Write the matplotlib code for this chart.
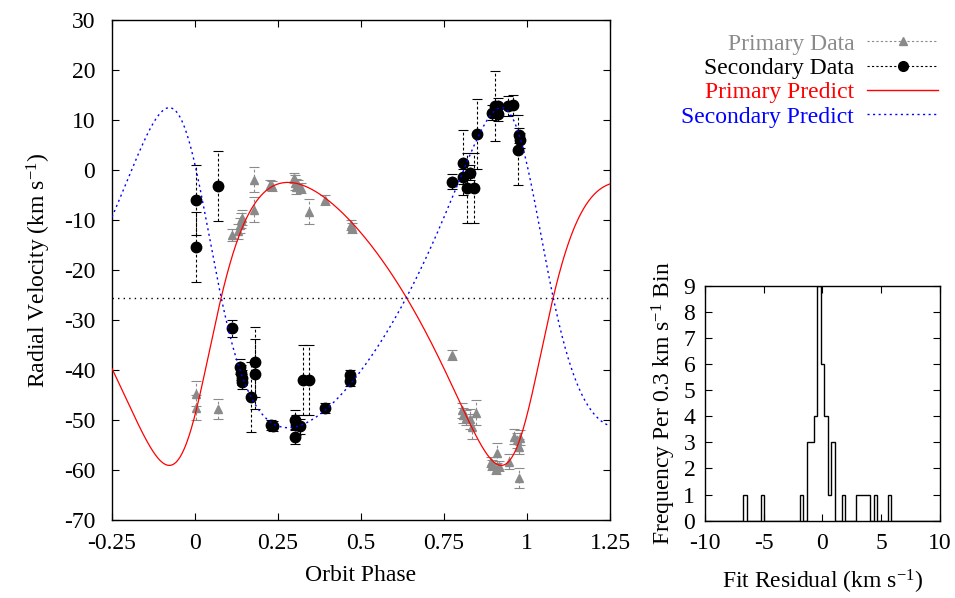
# Binary orbit radial velocity plot with residual histogram (gnuplot look)
import numpy as np
import matplotlib
matplotlib.use("Agg")
import matplotlib.pyplot as plt
from matplotlib.lines import Line2D

plt.rcParams.update({
    "font.family": ["Liberation Serif", "DejaVu Serif"],
    "font.size": 17,
    "mathtext.fontset": "custom",
    "mathtext.rm": "Liberation Serif",
    "mathtext.it": "Liberation Serif:italic",
    "axes.unicode_minus": False,
    "axes.linewidth": 1.0,
    "xtick.direction": "in",
    "ytick.direction": "in",
    "xtick.top": True,
    "ytick.right": True,
    "xtick.major.size": 5,
    "ytick.major.size": 5,
    "xtick.major.pad": 9,
    "ytick.major.pad": 12,
})

# --- primary star measurements (phase, km/s, error)
prim_phase = [0.002, 0.002, 0.068, 0.112, 0.128, 0.135, 0.138, 0.140, 0.178, 0.178,
              0.225, 0.232, 0.298, 0.300, 0.305, 0.310, 0.318, 0.344, 0.390, 0.470,
              0.472, 0.773, 0.803, 0.808, 0.815, 0.828, 0.835, 0.845, 0.890, 0.895,
              0.905, 0.910, 0.915, 0.945, 0.960, 0.970, 0.977, 0.978, 0.976]
prim_rv = [-44.7, -47.5, -47.7, -13.0, -12.2, -11.0, -10.0, -9.5, -1.9, -7.9,
           -3.0, -3.2, -1.5, -2.5, -3.3, -3.0, -3.5, -8.3, -6.0, -11.0,
           -11.6, -37.0, -48.0, -49.0, -49.5, -49.8, -51.3, -48.5, -58.3, -59.0,
           -59.7, -56.5, -59.2, -58.3, -53.3, -54.0, -55.3, -53.5, -61.5]
prim_err = [2.5, 2.5, 2.0, 1.2, 1.5, 1.5, 1.5, 1.5, 2.5, 2.5,
            1.0, 1.0, 1.0, 1.5, 1.5, 1.0, 1.0, 2.5, 1.0, 1.0,
            1.0, 1.0, 1.5, 1.5, 1.5, 2.0, 2.5, 2.5, 1.0, 1.0,
            1.0, 2.0, 1.0, 1.5, 1.5, 1.5, 1.5, 1.5, 2.0]

# --- secondary star measurements
sec_phase = [0.002, 0.002, 0.068, 0.112, 0.135, 0.137, 0.140, 0.142, 0.180, 0.181,
             0.168, 0.228, 0.234, 0.301, 0.303, 0.316, 0.302, 0.324, 0.344, 0.390,
             0.468, 0.466, 0.773, 0.806, 0.808, 0.818, 0.841, 0.828, 0.848, 0.894,
             0.902, 0.914, 0.914, 0.944, 0.959, 0.977, 0.979, 0.974]
sec_rv = [-6.0, -15.3, -3.2, -31.6, -39.3, -40.5, -42.3, -41.5, -38.4, -40.8,
          -45.3, -51.0, -51.2, -50.0, -51.0, -51.2, -53.3, -42.0, -42.0, -47.5,
          -41.0, -42.2, -2.3, -1.3, 1.5, -3.5, -3.5, -0.5, 7.3, 11.5,
          12.9, 12.9, 11.3, 12.9, 13.1, 7.0, 6.0, 4.1]
sec_err = [7.0, 7.0, 7.0, 1.7, 1.5, 1.5, 1.5, 1.5, 7.0, 7.0,
           7.0, 1.0, 1.0, 2.0, 2.0, 1.5, 1.5, 7.0, 7.0, 1.0,
           1.0, 1.0, 1.5, 1.5, 6.5, 7.0, 7.0, 1.5, 7.0, 1.5,
           7.0, 1.5, 1.5, 2.0, 2.0, 1.5, 1.5, 7.0]

# --- fitted orbit
GAMMA = -25.5      # systemic velocity
K1 = 28.3
K2 = 32.0
ECC = 0.29
OMEGA = np.radians(230.0)
T0 = 0.0

# --- residual histogram (0.3 km/s bins, left edges)
hist_bin_left = [-6.75, -5.25, -1.95, -1.35, -1.05, -0.75, -0.45, -0.15, 0.15,
                 0.45, 0.75, 1.65, 2.85, 3.15, 3.45, 3.75, 4.35, 5.55]
hist_counts = [1, 1, 1, 3, 3, 4, 9, 6, 4, 1, 3, 1, 1, 1, 1, 1, 1, 1]
BIN_WIDTH = 0.3

GRAY = "#8a8a8a"


def radial_velocity(phase, k):
    m = 2 * np.pi * (phase - T0)
    ea = m.copy()
    for _ in range(40):
        ea = ea - (ea - ECC * np.sin(ea) - m) / (1 - ECC * np.cos(ea))
    nu = 2 * np.arctan2(np.sqrt(1 + ECC) * np.sin(ea / 2), np.sqrt(1 - ECC) * np.cos(ea / 2))
    return GAMMA + k * (np.cos(nu + OMEGA) + ECC * np.cos(OMEGA))


fig = plt.figure(figsize=(9.55, 5.98), dpi=100)
ax = fig.add_axes([0.1173, 0.1304, 0.5215, 0.8361])
axh = fig.add_axes([0.7382, 0.1293, 0.2461, 0.393])

# data with dashed error bars
eb = ax.errorbar(prim_phase, prim_rv, yerr=prim_err, fmt="^", color=GRAY, ms=6,
                 ecolor=GRAY, elinewidth=0.8, capsize=3.5, capthick=0.8, zorder=2)
eb[2][0].set_linestyle((0, (2.5, 2)))
eb = ax.errorbar(sec_phase, sec_rv, yerr=sec_err, fmt="o", color="black", ms=7.5,
                 ecolor="black", elinewidth=0.8, capsize=3.5, capthick=0.8, zorder=3)
eb[2][0].set_linestyle((0, (2.5, 2)))

ph = np.linspace(-0.25, 1.25, 1200)
ax.plot(ph, radial_velocity(ph, K1), color="red", lw=0.9, zorder=4)
ax.plot(ph, radial_velocity(ph, -K2), color="blue", lw=1.0, ls=(0, (1.5, 2.5)), zorder=5)
ax.axhline(GAMMA, color="black", lw=1.0, ls=(0, (1, 3)), zorder=1)

ax.set_xlim(-0.25, 1.25)
ax.set_ylim(-70, 30)
ax.set_xticks([-0.25, 0, 0.25, 0.5, 0.75, 1, 1.25])
ax.set_xticklabels([f"{v:g}" for v in [-0.25, 0, 0.25, 0.5, 0.75, 1, 1.25]])
ax.set_yticks(np.arange(-70, 31, 10))
ax.set_xlabel("Orbit Phase", labelpad=8)
ax.set_ylabel("Radial Velocity (km s$^{-1}$)", labelpad=8)

handles = [
    Line2D([], [], color=GRAY, ls=(0, (2, 2)), lw=0.8, marker="^", ms=6),
    Line2D([], [], color="black", ls=(0, (2, 2)), lw=0.8, marker="o", ms=7),
    Line2D([], [], color="red", lw=1.0),
    Line2D([], [], color="blue", lw=1.0, ls=(0, (1.5, 2.5))),
]
labels = ["Primary Data", "Secondary Data", "Primary Predict", "Secondary Predict"]
fig.legend(handles, labels, loc="upper right", bbox_to_anchor=(938 / 955, 1 - 33 / 598),
           markerfirst=False, frameon=False, borderpad=0, borderaxespad=0,
           handlelength=3.0, handletextpad=0.55, labelspacing=0.12,
           labelcolor=[GRAY, "black", "red", "blue"])

# residual histogram
edges = np.arange(-10.05, 10.1, BIN_WIDTH)
centers = np.array(hist_bin_left) + BIN_WIDTH / 2
axh.hist(centers, bins=edges, weights=hist_counts, histtype="step", color="black", lw=1.0)
axh.set_xlim(-10, 10)
axh.set_ylim(0, 9)
axh.set_xticks([-10, -5, 0, 5, 10])
axh.set_yticks(range(0, 10))
axh.tick_params(axis="y", pad=7)
axh.set_xlabel("Fit Residual (km s$^{-1}$)", labelpad=10)
axh.set_ylabel("Frequency Per 0.3 km s$^{-1}$ Bin", labelpad=4)

fig.savefig("out.png", dpi=100)
